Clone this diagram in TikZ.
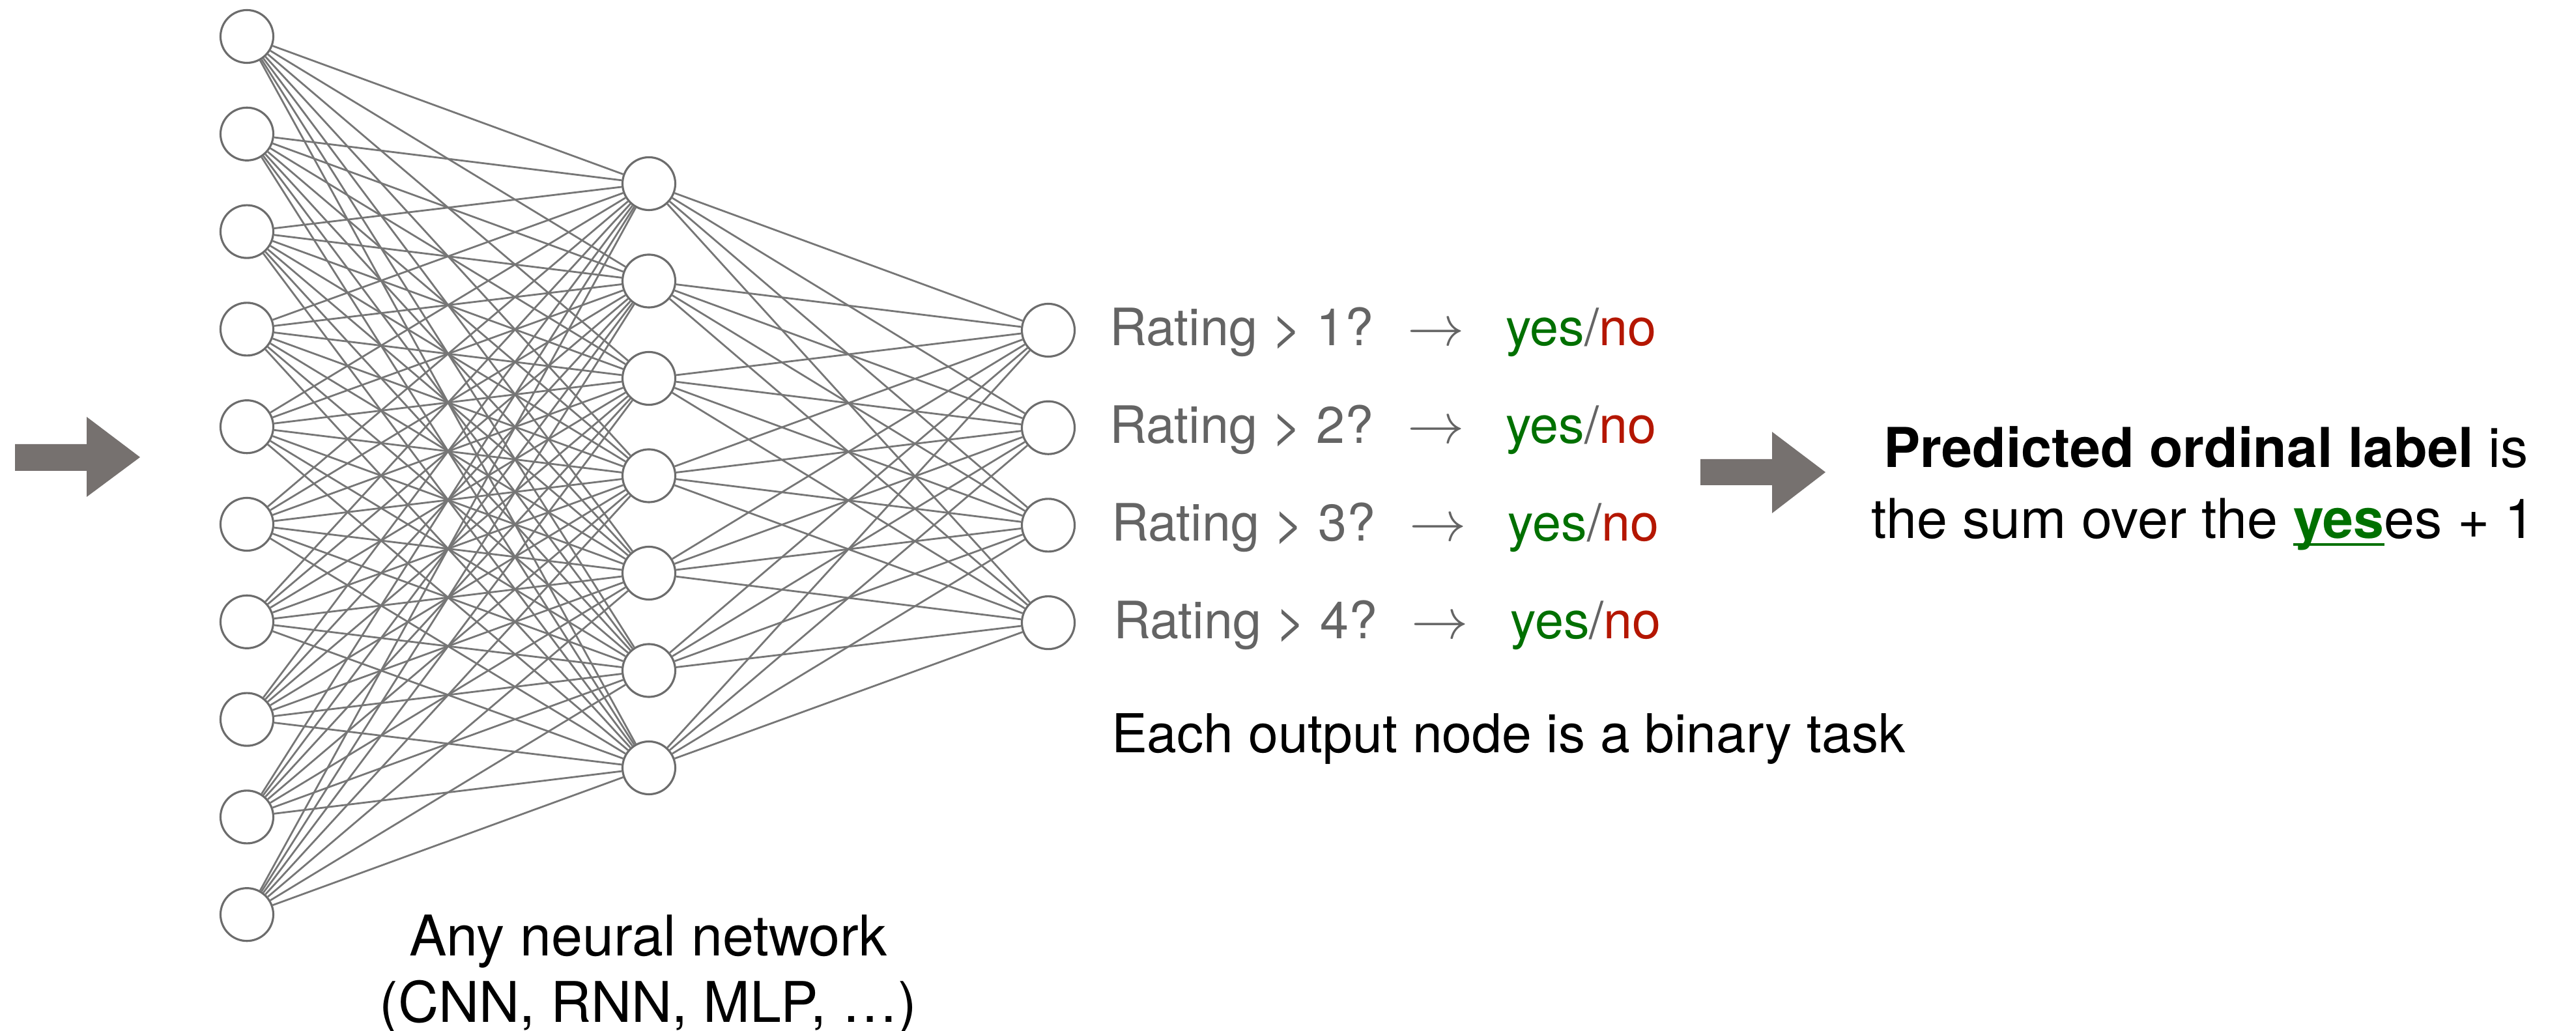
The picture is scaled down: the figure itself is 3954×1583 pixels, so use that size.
\documentclass[tikz,border=0pt]{standalone}
\usepackage{fontspec}
\setmainfont{TeX Gyre Heros}
\definecolor{edgegray}{RGB}{118,118,118}
\definecolor{ringgray}{RGB}{108,108,108}
\definecolor{labelgray}{RGB}{100,100,100}
\definecolor{yesgreen}{RGB}{0,112,0}
\definecolor{nored}{RGB}{180,22,0}
\definecolor{blockgray}{RGB}{118,113,111}
% bold green "yes" with a rule drawn through its descender
\newcommand\yesmark{{\color{yesgreen}\bfseries\sbox0{yes}\rlap{\rule[-3.1pt]{\wd0}{1pt}}\usebox0}}

\begin{document}
\begin{tikzpicture}[x=0.01cm,y=-0.01cm,
  neuron/.style={circle,draw=ringgray,line width=0.9pt,fill=white,
                 minimum size=0.81cm,inner sep=0pt},
  wire/.style={draw=edgegray,line width=0.8pt},
  txt/.style={inner sep=0pt,outer sep=0pt},
  rowtxt/.style={txt,text=labelgray,font=\fontsize{22.5}{27}\selectfont},
  arrtxt/.style={txt,text=labelgray,font=\fontsize{28}{32}\selectfont},
  maintxt/.style={txt,text=black,font=\fontsize{23.4}{28}\selectfont},
  nettxt/.style={txt,text=black,font=\fontsize{24.5}{29}\selectfont},
  sidetxt/.style={txt,text=black,font=\fontsize{24}{29}\selectfont},
  blockarrow/.style={fill=blockgray,draw=none}
]
\useasboundingbox (0,0) rectangle (3954,1583);

% layers of the network
\foreach \i in {1,...,10}
  \node[neuron] (in\i) at (379,{56+149.8*(\i-1)}) {};
\foreach \j in {1,...,7}
  \node[neuron] (hid\j) at (996,{282+149.5*(\j-1)}) {};
\foreach \k in {1,...,4}
  \node[neuron] (out\k) at (1609,{507+149.7*(\k-1)}) {};

% full connections between consecutive layers
\foreach \i in {1,...,10}
  \foreach \j in {1,...,7}
    \draw[wire] (in\i) -- (hid\j);
\foreach \j in {1,...,7}
  \foreach \k in {1,...,4}
    \draw[wire] (hid\j) -- (out\k);

% binary questions attached to the output units
\foreach \k/\dx in {1/0,2/0,3/3,4/6}{
  \node[rowtxt,anchor=base west] (q\k) at ({1703+\dx},{531+149.7*(\k-1)}) {Rating > \k?};
  \node[arrtxt,anchor=base] (to\k) at ({2204+\dx},{531+149.7*(\k-1)}) {$\rightarrow$};
  \node[rowtxt,anchor=base west] (ans\k) at ({2311+1.3*\dx},{531+149.7*(\k-1)})
    {\textcolor{yesgreen}{yes}\textcolor{labelgray}{/}\textcolor{nored}{no}};
}

\node[maintxt,anchor=base west] (task) at (1706,1156) {Each output node is a binary task};

\node[nettxt,anchor=base] (any1) at (995,1467) {Any neural network};
\node[nettxt,anchor=base] (any2) at (995,1569) {(CNN, RNN, MLP, …)};

\node[sidetxt,anchor=base] (pred1) at (3386,718) {\textbf{Predicted ordinal label} is};
\node[sidetxt,anchor=base] (pred2) at (3382,827) {the sum over the \yesmark es + 1};

% block arrows
\fill[blockarrow] (23,682) -- (133,682) -- (133,640) -- (215,702) -- (133,763)
  -- (133,723) -- (23,723) -- cycle;
\fill[blockarrow] (2610,705) -- (2720,705) -- (2720,663) -- (2802,725) -- (2720,788)
  -- (2720,745) -- (2610,745) -- cycle;
\end{tikzpicture}
\end{document}
